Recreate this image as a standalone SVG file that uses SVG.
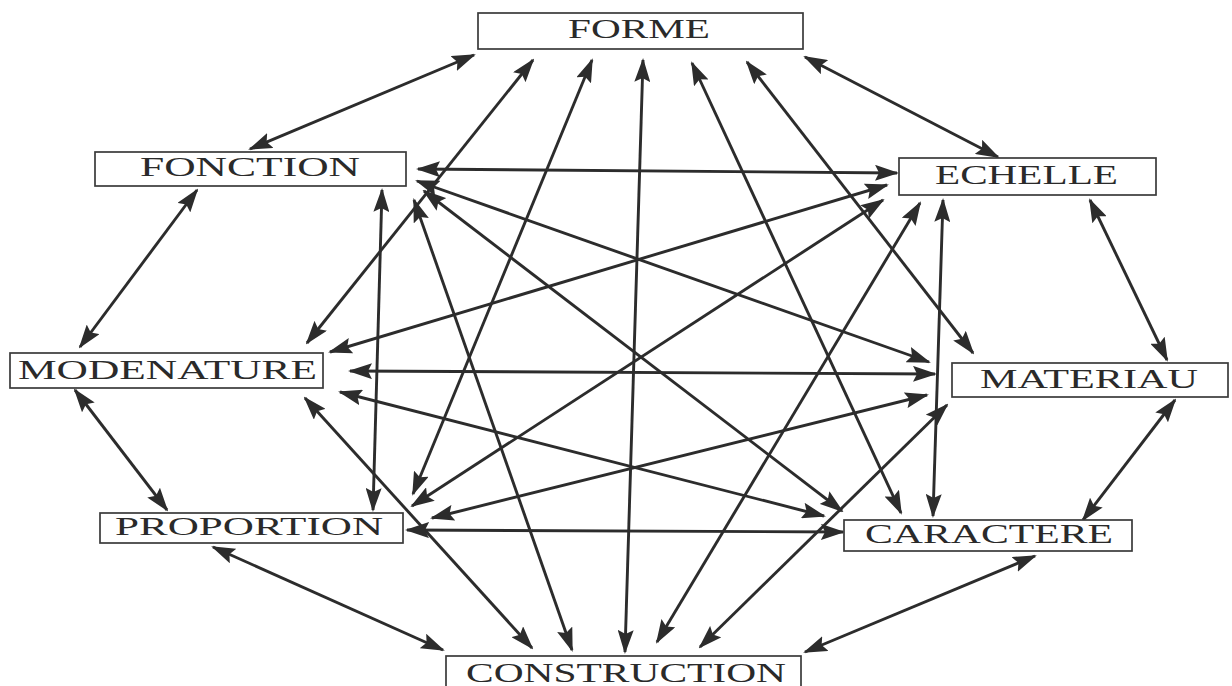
<svg xmlns="http://www.w3.org/2000/svg" width="1232" height="686" viewBox="0 0 1232 686">
<defs>
<style>
.box{fill:#fff;stroke:#3a3a3a;stroke-width:1.7}
.lbl{font-family:"Liberation Serif","DejaVu Serif",serif;font-size:27px;fill:#2a2a2a;text-anchor:start}
.c line{stroke:#2c2c2c;stroke-width:2.9;marker-start:url(#ah);marker-end:url(#ah)}
</style>
<marker id="ah" markerUnits="userSpaceOnUse" viewBox="0 0 24 16" refX="22" refY="8" markerWidth="24" markerHeight="16" orient="auto-start-reverse">
<path d="M0,0 L24,8 L0,16 L4,8 z" fill="#2c2c2c"/>
</marker>
</defs>
<rect width="1232" height="686" fill="#fff"/>
<g id="connectors" class="c">
<line x1="474" y1="55" x2="250" y2="149"/>
<line x1="805" y1="57" x2="998" y2="157"/>
<line x1="533" y1="60" x2="307" y2="343"/>
<line x1="592" y1="60" x2="413" y2="494"/>
<line x1="643" y1="60" x2="625" y2="652"/>
<line x1="692" y1="63" x2="901" y2="513"/>
<line x1="747" y1="62" x2="973" y2="353"/>
<line x1="418" y1="169" x2="897" y2="173"/>
<line x1="197" y1="190" x2="80" y2="347"/>
<line x1="382" y1="190" x2="373" y2="510"/>
<line x1="414" y1="200" x2="572" y2="650"/>
<line x1="417" y1="181" x2="929" y2="362"/>
<line x1="424" y1="191" x2="842" y2="511"/>
<line x1="887" y1="185" x2="330" y2="352"/>
<line x1="883" y1="200" x2="412" y2="506"/>
<line x1="920" y1="203" x2="657" y2="642"/>
<line x1="943" y1="200" x2="933" y2="516"/>
<line x1="1090" y1="200" x2="1167" y2="360"/>
<line x1="935" y1="374" x2="350" y2="371"/>
<line x1="927" y1="395" x2="432" y2="518"/>
<line x1="1175" y1="400" x2="1083" y2="520"/>
<line x1="947" y1="405" x2="700" y2="647"/>
<line x1="75" y1="390" x2="167" y2="510"/>
<line x1="340" y1="392" x2="824" y2="516"/>
<line x1="305" y1="398" x2="532" y2="648"/>
<line x1="407" y1="530" x2="843" y2="532"/>
<line x1="213" y1="547" x2="443" y2="650"/>
<line x1="1035" y1="556" x2="805" y2="652"/>
</g>
<g id="forme"><rect class="box" x="478" y="13" width="325" height="36"/><text class="lbl" x="568" y="38" textLength="142" lengthAdjust="spacingAndGlyphs">FORME</text></g>
<g id="fonction"><rect class="box" x="95" y="152" width="311" height="34"/><text class="lbl" x="140" y="176" textLength="220" lengthAdjust="spacingAndGlyphs">FONCTION</text></g>
<g id="echelle"><rect class="box" x="899" y="158" width="257" height="37"/><text class="lbl" x="935" y="184" textLength="183" lengthAdjust="spacingAndGlyphs">ECHELLE</text></g>
<g id="modenature"><rect class="box" x="10" y="353" width="313" height="35"/><text class="lbl" x="18" y="379" textLength="299" lengthAdjust="spacingAndGlyphs">MODENATURE</text></g>
<g id="materiau"><rect class="box" x="952" y="363" width="276" height="34"/><text class="lbl" x="980" y="388" textLength="218" lengthAdjust="spacingAndGlyphs">MATERIAU</text></g>
<g id="proportion"><rect class="box" x="100" y="513" width="303" height="30"/><text class="lbl" x="115" y="535" textLength="268" lengthAdjust="spacingAndGlyphs" style="font-size:25px">PROPORTION</text></g>
<g id="caractere"><rect class="box" x="844" y="520" width="288" height="31"/><text class="lbl" x="865" y="543" textLength="248" lengthAdjust="spacingAndGlyphs">CARACTERE</text></g>
<g id="construction"><rect class="box" x="446" y="656" width="355" height="34"/><text class="lbl" x="466" y="682" textLength="320" lengthAdjust="spacingAndGlyphs">CONSTRUCTION</text></g>
</svg>
